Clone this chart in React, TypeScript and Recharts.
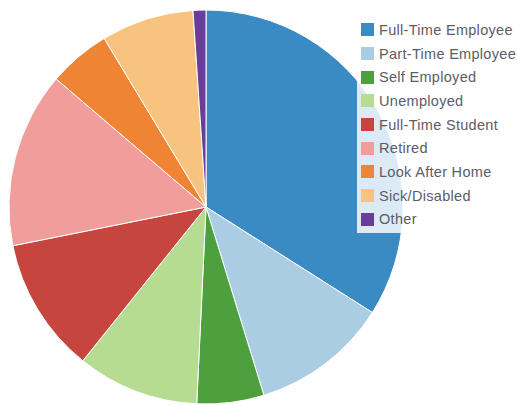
import React from "react";
import { PieChart, Pie, Cell, Legend } from "recharts";

const categories = [
  "Full-Time Employee",
  "Part-Time Employee",
  "Self Employed",
  "Unemployed",
  "Full-Time Student",
  "Retired",
  "Look After Home",
  "Sick/Disabled",
  "Other",
];
const values = [34, 11.25, 5.5, 10, 11.1, 14.4, 5.1, 7.6, 1.05];
const colors = [
  "#3a8ac4",
  "#aacde4",
  "#4e9f3d",
  "#b5dc91",
  "#c6463f",
  "#f09d9c",
  "#ef8534",
  "#f6c47f",
  "#6a3d9a",
];

const data = categories.map((name, i) => ({ name, value: values[i] }));

const renderLegend = () => (
  <div
    style={{
      background: "rgba(255,255,255,0.82)",
      padding: "2px 0 2px 4px",
      fontFamily: "Liberation Sans, Arial, sans-serif",
      fontSize: 14.5,
      letterSpacing: 0.3,
      color: "#5c5c68",
    }}
  >
    {categories.map((c, i) => (
      <div key={c} style={{ display: "flex", alignItems: "center", height: 23.7, whiteSpace: "nowrap" }}>
        <span style={{ display: "inline-block", width: 13, height: 13, background: colors[i], marginRight: 5 }} />
        <span>{c}</span>
      </div>
    ))}
  </div>
);

export default function App() {
  return (
    <div style={{ position: "absolute", left: 0, top: 0, width: 517, height: 406, background: "#fff", overflow: "hidden" }}>
      <PieChart width={517} height={406} margin={{ top: 0, right: 0, bottom: 0, left: 0 }}>
        <Pie
          data={data}
          dataKey="value"
          nameKey="name"
          cx={206}
          cy={207}
          outerRadius={197}
          startAngle={90}
          endAngle={-270}
          stroke="#ffffff"
          strokeWidth={1}
          isAnimationActive={false}
        >
          {data.map((d, i) => (
            <Cell key={d.name} fill={colors[i]} />
          ))}
        </Pie>
        <Legend
          content={renderLegend}
          wrapperStyle={{ position: "absolute", left: 357, top: 16, width: 170 }}
        />
      </PieChart>
    </div>
  );
}
